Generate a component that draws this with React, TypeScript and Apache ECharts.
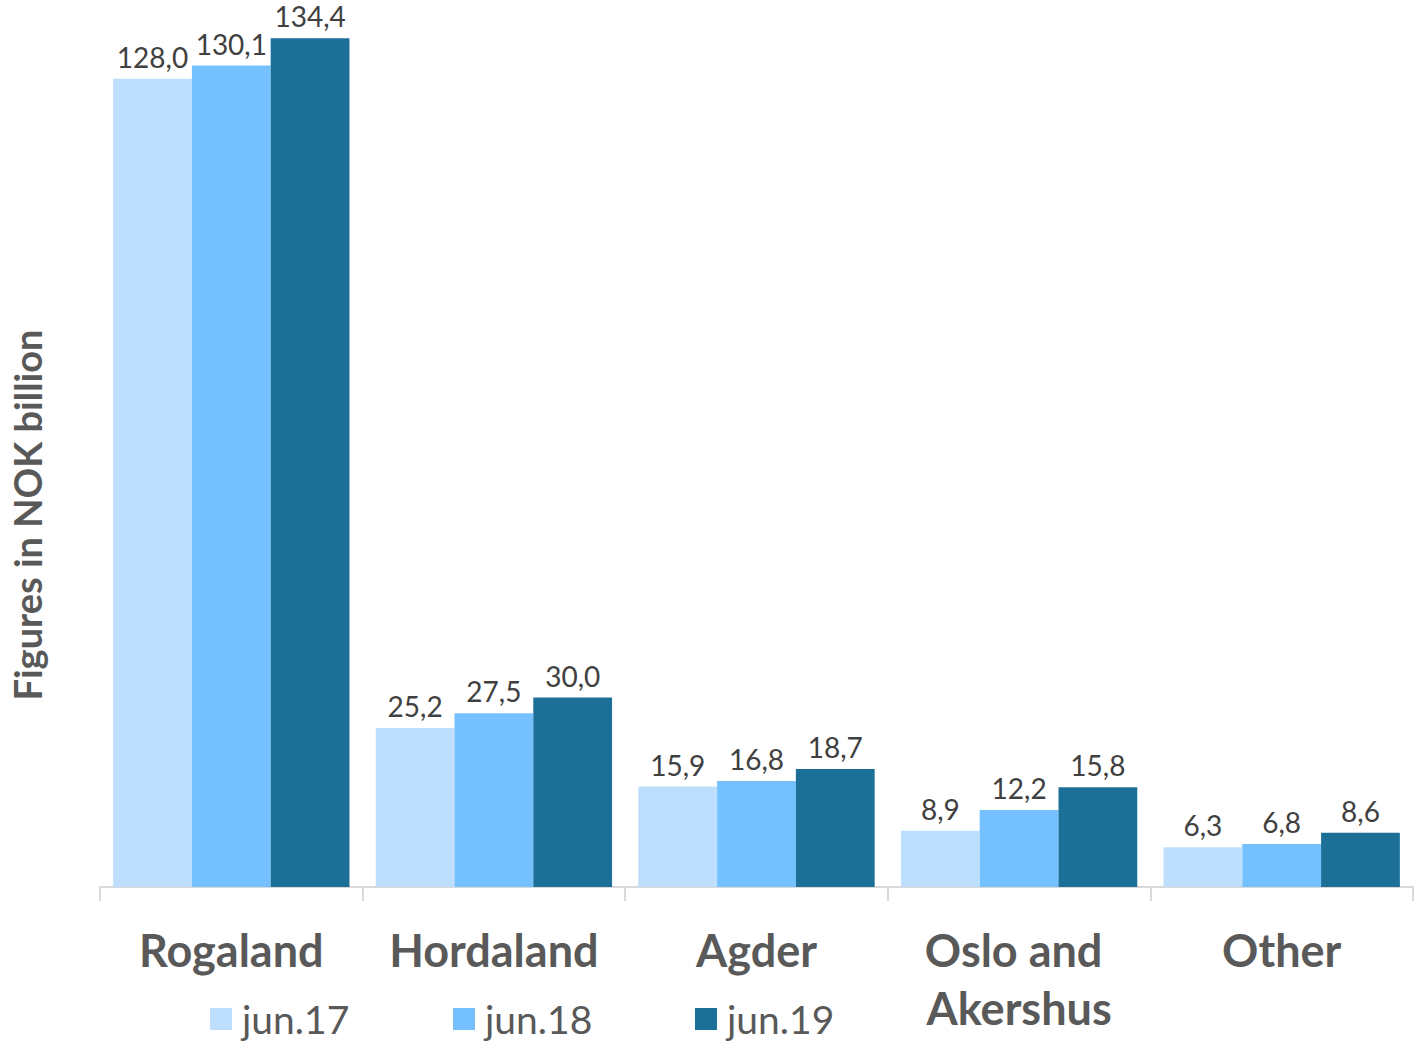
import React, { useEffect, useRef } from "react";
import * as echarts from "echarts";

const categories = ["Rogaland", "Hordaland", "Agder", "Oslo and Akershus", "Other"];
const seriesNames = ["jun.17", "jun.18", "jun.19"];
const jun17 = [128.0, 25.2, 15.9, 8.9, 6.3];
const jun18 = [130.1, 27.5, 16.8, 12.2, 6.8];
const jun19 = [134.4, 30.0, 18.7, 15.8, 8.6];
const colors = ["#BDDFFD", "#75C0FE", "#1C7098"];
const yTitle = "Figures in NOK billion";

const FONT = "Lato, 'Open Sans', sans-serif";

export default function App() {
  const ref = useRef<HTMLDivElement>(null);
  useEffect(() => {
    if (!ref.current) return;
    const chart = echarts.init(ref.current, null, { renderer: "svg" });
    const values = [jun17, jun18, jun19];
    const legendLefts = [210, 453, 695];
    chart.setOption({
      animation: false,
      textStyle: { fontFamily: FONT },
      grid: { left: 100, right: 2, top: 3, bottom: 158 },
      legend: seriesNames.map((n, i) => ({
        data: [n],
        left: legendLefts[i],
        top: 998,
        padding: 0,
        itemWidth: 22,
        itemHeight: 22,
        itemGap: 0,
        icon: "rect",
        textStyle: { fontSize: 39, lineHeight: 42, color: "#595959", fontFamily: FONT, padding: [0, 0, 0, 5] },
      })),
      xAxis: {
        type: "category",
        data: categories,
        axisLine: { lineStyle: { color: "#D9D9D9", width: 2 } },
        axisTick: { show: true, length: 14, lineStyle: { color: "#D9D9D9", width: 2 } },
        axisLabel: {
          interval: 0,
          margin: 34,
          fontSize: 45,
          fontWeight: "bold",
          color: "#595959",
          fontFamily: FONT,
          width: 250,
          overflow: "break",
          lineHeight: 58,
        },
      },
      yAxis: {
        type: "value",
        min: 0,
        max: 140,
        axisLine: { show: false },
        axisTick: { show: false },
        axisLabel: { show: false },
        splitLine: { show: false },
      },
      graphic: [
        {
          type: "text",
          x: 27,
          y: 515,
          rotation: Math.PI / 2,
          style: {
            text: yTitle,
            fontSize: 38,
            fontWeight: "bold",
            fill: "#595959",
            fontFamily: FONT,
            align: "center",
            verticalAlign: "middle",
          },
        },
      ],
      series: seriesNames.map((n, i) => ({
        name: n,
        type: "bar",
        data: values[i],
        barGap: "0%",
        barCategoryGap: "10%",
        itemStyle: { color: colors[i] },
        label: {
          show: true,
          position: "top",
          distance: 7,
          fontSize: 28,
          lineHeight: 30,
          color: "#404040",
          fontFamily: FONT,
          formatter: (p: any) => p.value.toFixed(1).replace(".", ","),
        },
      })),
    });
    return () => chart.dispose();
  }, []);
  return (
    <div
      ref={ref}
      style={{ position: "fixed", left: 0, top: 0, width: 1415, height: 1045, background: "#fff" }}
    />
  );
}
